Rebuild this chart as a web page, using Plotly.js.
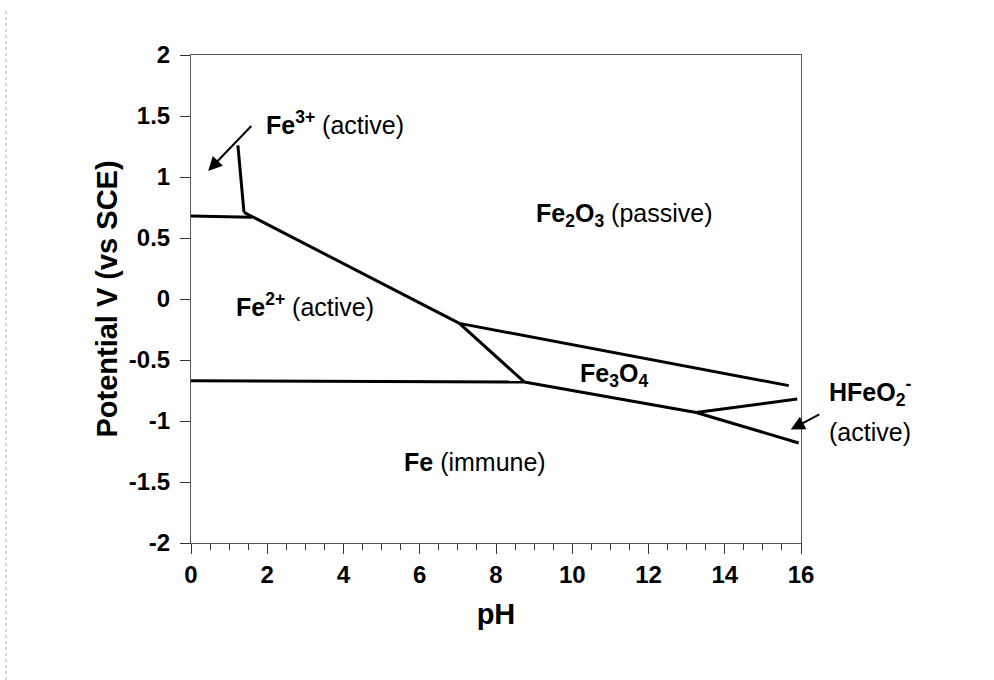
<!DOCTYPE html>
<html>
<head>
<meta charset="utf-8">
<script src="https://cdn.plot.ly/plotly-3.0.1.min.js"></script>
<style>html,body{margin:0;padding:0;background:#fff;}#chart{width:994px;height:680px;}</style>
</head>
<body>
<div id="chart"></div>
<script>
// Boundary lines of the Pourbaix diagram (pH, potential V vs SCE)
var fe3Fe2_x = [0, 1.6];       var fe3Fe2_y = [0.68, 0.67];
var fe3Ox_x = [1.23, 1.39];    var fe3Ox_y = [1.26, 0.71];
var fe2Ox_x = [1.39, 7.04];    var fe2Ox_y = [0.71, -0.2];
var fe2Mag_x = [7.04, 8.74];   var fe2Mag_y = [-0.2, -0.68];
var feFe2_x = [0, 8.74];       var feFe2_y = [-0.67, -0.68];
var magHem_x = [7.04, 15.68];  var magHem_y = [-0.2, -0.71];
var feMag_x = [8.74, 13.25];   var feMag_y = [-0.68, -0.93];
var magHfe_x = [13.25, 15.9];  var magHfe_y = [-0.93, -0.82];
var feHfe_x = [13.25, 15.94];  var feHfe_y = [-0.93, -1.18];

var xTicks = [0, 2, 4, 6, 8, 10, 12, 14, 16];
var yTicks = [-2, -1.5, -1, -0.5, 0, 0.5, 1, 1.5, 2];
var yTickText = ['-2', '-1.5', '-1', '-0.5', '0', '0.5', '1', '1.5', '2'];

// Region labels inside the plot (pH, potential)
var labelX = [3.77, 11.36, 2.98, 11.1, 7.46];
var labelY = [1.44, 0.69, -0.05, -0.62, -1.34];
var labelText = [
  '<b>Fe<sup>3+</sup></b> (active)',
  '<b>Fe<sub>2</sub>O<sub>3</sub></b> (passive)',
  '<b>Fe<sup>2+</sup></b> (active)',
  '<b>Fe<sub>3</sub>O<sub>4</sub></b>',
  '<b>Fe</b> (immune)'
];
// Labels beside the plot, right of pH 16 (potential)
var outLabelY = [-0.76, -1.09];
var outLabelText = ['<b>HFeO<sub>2</sub><sup>-</sup></b>', '(active)'];

// Arrows: tail -> head
var arrowTailX = [1.62, 16.52];  var arrowTailY = [1.43, -0.94];
var arrowHeadX = [0.45, 15.73];  var arrowHeadY = [1.05, -1.07];

var segs = [
  [fe3Fe2_x, fe3Fe2_y], [fe3Ox_x, fe3Ox_y], [fe2Ox_x, fe2Ox_y],
  [fe2Mag_x, fe2Mag_y], [feFe2_x, feFe2_y], [magHem_x, magHem_y],
  [feMag_x, feMag_y], [magHfe_x, magHfe_y], [feHfe_x, feHfe_y]
];
var traces = segs.map(function (s) {
  return {x: s[0], y: s[1], mode: 'lines', type: 'scatter',
          line: {color: '#000', width: 3}, hoverinfo: 'skip', showlegend: false, cliponaxis: false};
});

var labelFont = {family: 'Liberation Sans, Arial, sans-serif', size: 25, color: '#000'};
var annotations = [];
for (var i = 0; i < labelX.length; i++) {
  annotations.push({x: labelX[i], y: labelY[i], xref: 'x', yref: 'y', text: labelText[i],
    showarrow: false, xanchor: 'center', yanchor: 'middle', font: labelFont});
}
for (var k = 0; k < outLabelY.length; k++) {
  annotations.push({x: 1.113, y: outLabelY[k], xref: 'paper', yref: 'y', text: outLabelText[k],
    showarrow: false, xanchor: 'center', yanchor: 'middle', font: labelFont});
}
for (var j = 0; j < arrowTailX.length; j++) {
  annotations.push({x: arrowHeadX[j], y: arrowHeadY[j], ax: arrowTailX[j], ay: arrowTailY[j],
    xref: 'x', yref: 'y', axref: 'x', ayref: 'y', text: '', showarrow: true,
    arrowhead: 2, arrowsize: 1.4, arrowwidth: 2, arrowcolor: '#000'});
}

var layout = {
  width: 994, height: 680,
  margin: {l: 191, r: 193, t: 55, b: 137, pad: 0},
  paper_bgcolor: '#fff', plot_bgcolor: '#fff',
  font: {family: 'Liberation Sans, Arial, sans-serif', color: '#000'},
  showlegend: false,
  xaxis: {
    range: [0, 16], tickvals: xTicks, ticktext: xTicks.map(String),
    ticks: 'outside', ticklen: 10, tickwidth: 1, tickcolor: '#333',
    minor: {dtick: 0.5, ticks: 'outside', ticklen: 6, tickcolor: '#333', tickwidth: 1, showgrid: false},
    showgrid: false, zeroline: false, showline: true, linecolor: '#555', linewidth: 1, mirror: true,
    tickfont: {size: 24, color: '#000', weight: 'bold'},
    title: {text: '<b>pH</b>', font: {size: 29, color: '#000'}, standoff: 16}
  },
  yaxis: {
    range: [-2, 2], tickvals: yTicks, ticktext: yTickText,
    ticks: 'outside', ticklen: 10, tickwidth: 1, tickcolor: '#333',
    ticklabelstandoff: 5,
    showgrid: false, zeroline: false, showline: true, linecolor: '#555', linewidth: 1, mirror: true,
    tickfont: {size: 24, color: '#000', weight: 'bold'},
    title: {text: '<b>Potential V (vs SCE)</b>', font: {size: 29, color: '#000'}, standoff: 2}
  },
  annotations: annotations,
  shapes: [
    {type: 'line', xref: 'paper', yref: 'paper', x0: -185/610, x1: -185/610, y0: -137/488, y1: 533/488,
     line: {color: '#aaa', width: 1, dash: 'dot'}}
  ]
};

Plotly.newPlot('chart', traces, layout, {staticPlot: true, displayModeBar: false});
</script>
</body>
</html>
